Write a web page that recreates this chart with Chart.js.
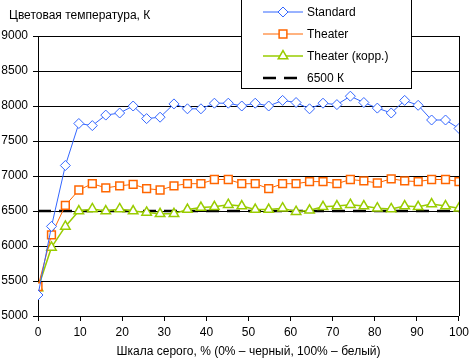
<!DOCTYPE html>
<html>
<head>
<meta charset="utf-8">
<script src="https://cdn.jsdelivr.net/npm/chart.js@4/dist/chart.umd.min.js"></script>
<style>
html, body { margin: 0; padding: 0; background: #fff; }
</style>
</head>
<body>
<canvas id="chart" width="473" height="359"></canvas>
<script>
'use strict';

// gray level, %
var grayLevels = [0, 3.2, 6.5, 9.7, 12.9, 16.1, 19.4, 22.6, 25.8, 29.0, 32.3, 35.5, 38.7, 41.9, 45.2, 48.4,
    51.6, 54.8, 58.1, 61.3, 64.5, 67.7, 71.0, 74.2, 77.4, 80.6, 83.9, 87.1, 90.3, 93.5, 96.8, 100];

var standard = [5300, 6280, 7150, 7750, 7720, 7870, 7900, 8000, 7820, 7840, 8030, 7960, 7960, 8040, 8040, 8000,
    8040, 8000, 8080, 8050, 7960, 8040, 8020, 8140, 8050, 7970, 7900, 8080, 8010, 7800, 7800, 7680];
var theater = [5420, 6160, 6580, 6800, 6890, 6830, 6860, 6880, 6820, 6800, 6860, 6890, 6890, 6950, 6950, 6890,
    6890, 6820, 6890, 6890, 6920, 6920, 6890, 6950, 6930, 6900, 6960, 6930, 6920, 6950, 6950, 6920];
var theaterCorr = [5400, 5980, 6280, 6500, 6530, 6500, 6530, 6500, 6480, 6460, 6460, 6520, 6550, 6560, 6590, 6570,
    6520, 6520, 6540, 6490, 6510, 6560, 6570, 6590, 6570, 6540, 6530, 6570, 6560, 6600, 6570, 6540];
var refX = [0, 100];
var refY = [6500, 6500];

var yTicks = [5000, 5500, 6000, 6500, 7000, 7500, 8000, 8500, 9000];
var xTicks = [0, 10, 20, 30, 40, 50, 60, 70, 80, 90, 100];

function points(xs, ys) {
    return xs.map(function (x, i) { return { x: x, y: ys[i] }; });
}

Chart.defaults.font.family = '"Liberation Sans", Arial, sans-serif';
Chart.defaults.font.size = 12;
Chart.defaults.color = '#000';

// title in the upper left corner
var titlePlugin = {
    id: 'cornerTitle',
    afterDraw: function (chart) {
        var ctx = chart.ctx;
        ctx.save();
        ctx.font = '12px "Liberation Sans", Arial, sans-serif';
        ctx.fillStyle = '#000';
        ctx.textBaseline = 'middle';
        ctx.fillText('Цветовая температура, К', 9, 16);
        ctx.restore();
    }
};

// plot frame
var framePlugin = {
    id: 'frame',
    beforeDatasetsDraw: function (chart) {
        var a = chart.chartArea, ctx = chart.ctx;
        ctx.save();
        ctx.strokeStyle = '#000';
        ctx.lineWidth = 1;
        ctx.beginPath();
        ctx.moveTo(Math.round(a.right) + 0.5, a.top);
        ctx.lineTo(Math.round(a.right) + 0.5, a.bottom);
        ctx.stroke();
        ctx.restore();
    }
};

// boxed legend over the plot
var boxLegend = {
    id: 'boxLegend',
    afterDraw: function (chart) {
        var ctx = chart.ctx;
        var bx = 241, by = -1, bw = 171, bh = 90;
        ctx.save();
        ctx.fillStyle = '#fff';
        ctx.fillRect(bx, by, bw, bh);
        ctx.strokeStyle = '#000';
        ctx.lineWidth = 1;
        ctx.strokeRect(bx + 0.5, by + 0.5, bw - 1, bh - 1);
        ctx.font = '12px "Liberation Sans", Arial, sans-serif';
        ctx.textBaseline = 'middle';
        chart.data.datasets.forEach(function (ds, i) {
            var y = 12 + i * 22;
            var x0 = 263, x1 = 303;
            ctx.save();
            ctx.strokeStyle = ds.borderColor;
            ctx.lineWidth = ds.borderWidth;
            if (ds.borderDash) {
                ctx.setLineDash(ds.borderDash);
                x1 = 297;
            }
            ctx.beginPath();
            ctx.moveTo(x0, y);
            ctx.lineTo(x1, y);
            ctx.stroke();
            ctx.restore();
            if (ds.pointRadius > 0) {
                ctx.save();
                ctx.fillStyle = '#fff';
                ctx.strokeStyle = ds.borderColor;
                ctx.lineWidth = ds.pointBorderWidth;
                Chart.helpers.drawPoint(ctx, {
                    pointStyle: ds.pointStyle,
                    radius: ds.pointRadius,
                    borderWidth: ds.pointBorderWidth
                }, 283, y);
                ctx.restore();
            }
            ctx.fillStyle = '#000';
            ctx.fillText(ds.label, 307, y + 1);
        });
        ctx.restore();
    }
};

var ctx = document.getElementById('chart').getContext('2d');
var chart = new Chart(ctx, {
    type: 'line',
    data: {
        datasets: [{
            label: 'Standard',
            data: points(grayLevels, standard),
            borderColor: '#3366FF',
            backgroundColor: '#fff',
            borderWidth: 1,
            pointStyle: 'rectRot',
            pointRadius: 5,
            pointBorderWidth: 1,
            pointBackgroundColor: '#fff'
        },
        {
            label: 'Theater',
            data: points(grayLevels, theater),
            borderColor: '#FF6600',
            backgroundColor: '#fff',
            borderWidth: 1,
            pointStyle: 'rect',
            pointRadius: 5.5,
            pointBorderWidth: 1.5,
            pointBackgroundColor: '#fff'
        },
        {
            label: 'Theater (корр.)',
            data: points(grayLevels, theaterCorr),
            borderColor: '#99CC00',
            backgroundColor: '#fff',
            borderWidth: 1.5,
            pointStyle: 'triangle',
            pointRadius: 5.5,
            pointBorderWidth: 1.5,
            pointBackgroundColor: '#fff'
        },
        {
            label: '6500 К',
            data: points(refX, refY),
            borderColor: '#000',
            borderWidth: 2.5,
            borderDash: [13, 8],
            pointRadius: 0
        }]
    },
    options: {
        responsive: false,
        animation: false,
        layout: { padding: { top: 36, right: 10, left: 0, bottom: 0 } },
        plugins: {
            legend: { display: false },
            title: { display: false },
            tooltip: { enabled: false }
        },
        scales: {
            x: {
                type: 'linear',
                min: 0,
                max: 100,
                afterBuildTicks: function (axis) {
                    axis.ticks = xTicks.map(function (v) { return { value: v }; });
                },
                ticks: {
                    padding: 4,
                    maxRotation: 0,
                    autoSkip: false,
                    callback: function (v) { return String(v); }
                },
                grid: { drawOnChartArea: false, drawTicks: true, tickLength: 5, color: '#000' },
                border: { color: '#000', width: 1 },
                title: {
                    display: true,
                    text: 'Шкала серого, % (0% – черный, 100% – белый)',
                    padding: { top: 0, bottom: 0 }
                },
                afterFit: function (axis) { axis.height = 43; }
            },
            y: {
                min: 5000,
                max: 9000,
                afterBuildTicks: function (axis) {
                    axis.ticks = yTicks.map(function (v) { return { value: v }; });
                },
                ticks: {
                    padding: 5,
                    callback: function (v) { return String(v); }
                },
                grid: { color: '#000', tickLength: 5, drawTicks: true },
                border: { color: '#000', width: 1 },
                afterFit: function (axis) { axis.width = 38; }
            }
        }
    },
    plugins: [framePlugin, titlePlugin, boxLegend]
});
</script>
</body>
</html>
